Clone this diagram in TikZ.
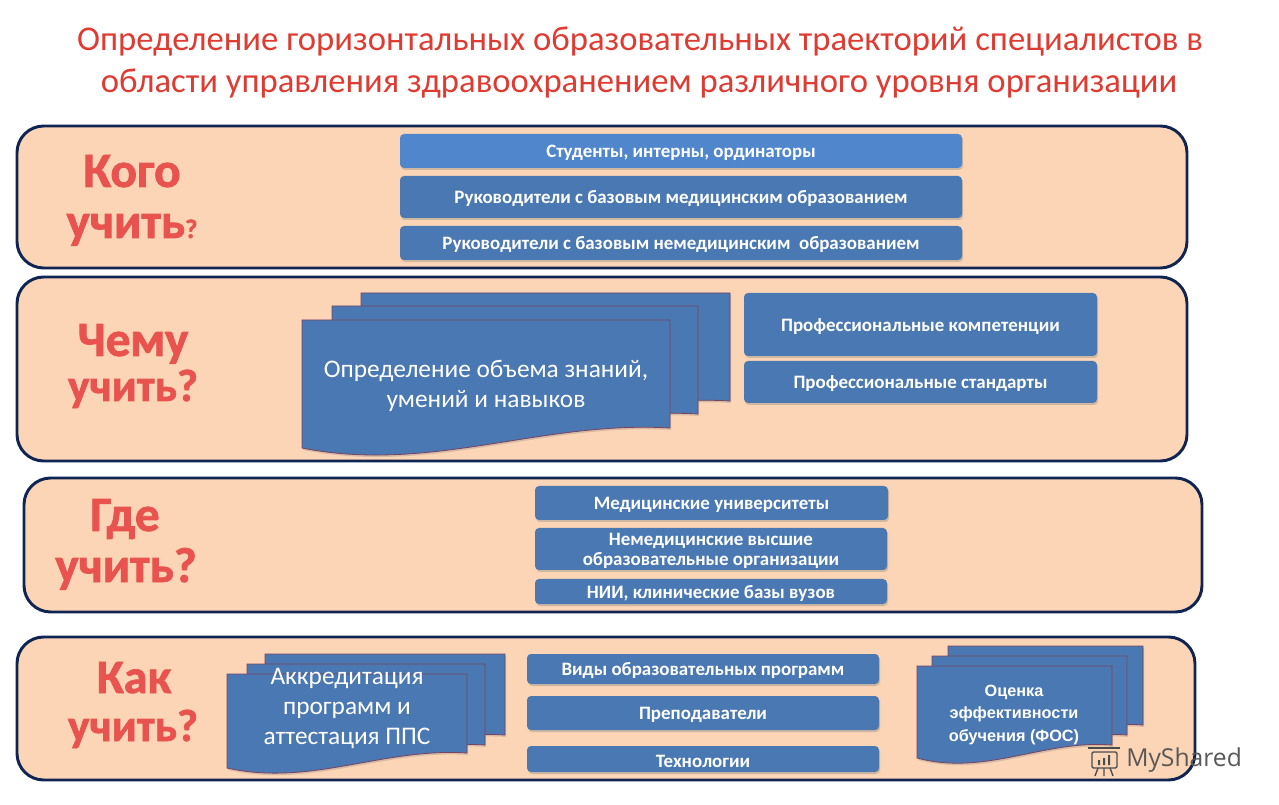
\documentclass[tikz,border=0pt]{standalone}
\usepackage{fontspec}
\setmainfont{Carlito}
\newfontfamily\wmfont{Open Sans}
\newfontfamily\headfont{Carlito}[BoldFeatures = {FakeBold = 1.5}]
\newfontfamily\arialfont{Liberation Sans}
\usetikzlibrary{shadows}
\definecolor{panelfill}{HTML}{FBD5B5}
\definecolor{panelline}{HTML}{0F2452}
\definecolor{barblue}{HTML}{4A78B2}
\definecolor{barlight}{HTML}{4F86CC}
\definecolor{headred}{HTML}{E9534F}
\definecolor{titlered}{HTML}{DE3B32}
\tikzset{panel/.style = {draw = panelline, line width = 2.2pt, fill = panelfill, rounded corners = 20pt}}
\tikzset{bar/.style = {fill = barblue, rounded corners = 3pt, drop shadow = {opacity = 0.35, shadow xshift = 0.8pt, shadow yshift = -1.5pt}}}
\tikzset{sheet/.style = {fill = barblue, draw = black!30!red!45!barblue, line width = 0.6pt, drop shadow = {opacity = 0.3, shadow xshift = 0.8pt, shadow yshift = -1.5pt}}}
\tikzset{barlabel/.style = {text = white, font = \bfseries\fontsize{14.2}{15}\selectfont, align = center, inner sep = 0, yshift = -1.5pt}}
\tikzset{sheetlabel/.style = {text = white, font = \fontsize{19}{23}\selectfont, align = center, inner sep = 0}}
\tikzset{head/.style = {text = headred, font = \headfont\bfseries\fontsize{35}{38}\selectfont, inner sep = 0, anchor = base}}
\tikzset{titleline/.style = {text = titlered, font = \fontsize{26}{28}\selectfont, inner sep = 0}}
% one wavy sheet: left, top, right, bottom of the right edge, bottom of the left edge
\newcommand{\wavysheet}[5]{
  \path [sheet] (#1, #2) -- (#3, #2) -- (#3, #4)
  .. controls ({#3 - 0.35*(#3 - #1)}, {#4 - 0.06*(#5 - #2)}) and ({#1 + 0.35*(#3 - #1)}, {#5 + 0.20*(#5 - #2)}) .. (#1, #5) -- cycle;
}
\begin{document}
\begin{tikzpicture}[x = 0.75pt, y = -0.75pt]
      \useasboundingbox (0, 0) rectangle (1279, 805);
      \fill [white] (0, 0) rectangle (1279, 805);

      \node [titleline] (title1) at (640, 42) {Определение горизонтальных образовательных траекторий специалистов в};
      \node [titleline] (title2) at (639, 84) {области управления здравоохранением различного уровня организации};

      \draw [panel] (17, 126) rectangle (1187, 268);
      \draw [panel] (17, 277) rectangle (1187, 461);
      \draw [panel] (24, 478) rectangle (1202, 612);
      \draw [panel] (17, 637) rectangle (1195, 780);

      \node [head, font = \headfont\bfseries\fontsize{37}{38}\selectfont] (who1) at (132, 187) {Кого};
      \node [head, font = \headfont\bfseries\fontsize{37}{38}\selectfont] (who2) at (132, 238) {учить\fontsize{20}{20}\selectfont?};
      \node [head, font = \headfont\bfseries\fontsize{37}{38}\selectfont] (what1) at (133, 356) {Чему};
      \node [head, font = \headfont\bfseries\fontsize{34}{38}\selectfont] (what2) at (133, 401) {учить?};
      \node [head, font = \headfont\bfseries\fontsize{37}{38}\selectfont] (where1) at (125, 531) {Где};
      \node [head, font = \headfont\bfseries\fontsize{37}{38}\selectfont] (where2) at (126, 582) {учить?};
      \node [head, font = \headfont\bfseries\fontsize{36}{38}\selectfont] (how1) at (134, 693) {Как};
      \node [head, font = \headfont\bfseries\fontsize{34}{38}\selectfont] (how2) at (133, 741) {учить?};

      \path [bar, fill = barlight] (400, 134) rectangle (962, 168) node [barlabel, midway] (whobar1) {Студенты, интерны, ординаторы};
      \path [bar] (400, 176) rectangle (962, 218) node [barlabel, midway] (whobar2) {Руководители с базовым медицинским образованием};
      \path [bar] (400, 226) rectangle (962, 260) node [barlabel, midway] (whobar3) {Руководители с базовым немедицинским\ \ образованием};

      \wavysheet{361}{293}{730}{401}{428}
      \wavysheet{332}{306}{698}{414}{441}
      \wavysheet{302}{320}{670}{428}{448}
      \node [sheetlabel] (whatsheet) at (486, 386) {Определение объема знаний,\\умений и навыков};

      \path [bar] (744, 293) rectangle (1097, 356) node [barlabel, midway] (whatbar1) {Профессиональные компетенции};
      \path [bar] (744, 361) rectangle (1097, 403) node [barlabel, midway] (whatbar2) {Профессиональные стандарты};

      \path [bar] (535, 486) rectangle (888, 520) node [barlabel, midway] (wherebar1) {Медицинские университеты};
      \path [bar] (535, 528) rectangle (887, 570) node [barlabel, midway] (wherebar2) {Немедицинские высшие\\образовательные организации};
      \path [bar] (535, 579) rectangle (887, 604) node [barlabel, midway] (wherebar3) {НИИ, клинические базы вузов};

      \wavysheet{265}{654}{505}{735}{750}
      \wavysheet{247}{664}{485}{745}{760}
      \wavysheet{227}{674}{467}{753}{768}
      \node [sheetlabel, font = \fontsize{19}{22.5}\selectfont] (howsheet) at (347, 708) {Аккредитация\\программ и\\аттестация ППС};

      \path [bar] (527, 654) rectangle (879, 684) node [barlabel, midway] (howbar1) {Виды образовательных программ};
      \path [bar] (527, 696) rectangle (879, 730) node [barlabel, midway] (howbar2) {Преподаватели};
      \path [bar] (527, 746) rectangle (879, 772) node [barlabel, midway] (howbar3) {Технологии};

      \wavysheet{948}{646}{1143}{725}{738}
      \wavysheet{932}{656}{1127}{735}{748}
      \wavysheet{917}{666}{1112}{745}{758}
      \node [barlabel, font = \arialfont\bfseries\fontsize{12.2}{17}\selectfont] (howsheet2) at (1014, 713) {Оценка\\эффективности\\обучения (ФОС)};

      % watermark
      \draw [black!70, line width = 1pt, rounded corners = 1pt] (1092, 752) rectangle (1117, 768);
      \draw [black!70, line width = 1.4pt] (1088, 748) -- (1120, 748);
      \draw [black!70, line width = 1pt] (1098, 768) -- (1095, 776) (1110, 768) -- (1113, 776) (1104, 768) -- (1104, 776);
      \fill [black!70] (1098, 760) rectangle (1100, 765) (1103, 758) rectangle (1105, 765) (1108, 755) rectangle (1110, 765);
      \node [inner sep = 0, anchor = west, text = black!65, font = \wmfont\fontsize{18.5}{19}\selectfont] (mark) at (1126, 760) {MyShared};
    \end{tikzpicture}
\end{document}
